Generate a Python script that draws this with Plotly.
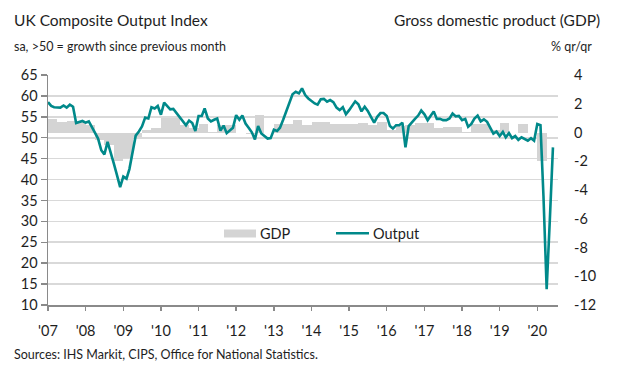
import pandas as pd
import plotly.graph_objects as go

# ---------------- data ----------------
month_start = "2007-01-01"
output_index = [
    # 2007
    58.5, 57.6, 57.3, 57.2, 57.2, 57.7, 57.2, 57.9, 57.4, 53.5, 53.8, 54.0,
    # 2008
    53.6, 53.9, 52.6, 51.3, 49.8, 47.0, 46.0, 49.0, 46.6, 43.8, 41.0, 38.2,
    # 2009
    40.7, 40.2, 42.5, 47.0, 50.5, 51.5, 52.7, 54.8, 54.6, 57.3, 57.0, 57.6,
    # 2010
    55.5, 58.4, 57.7, 56.8, 56.9, 55.9, 55.0, 54.0, 53.0, 54.1, 53.5, 51.6,
    # 2011
    55.2, 55.2, 57.0, 54.6, 53.9, 54.3, 54.6, 51.7, 52.9, 51.1, 51.8, 52.4,
    # 2012
    55.4, 54.3, 55.3, 53.4, 52.4, 51.3, 49.6, 52.8, 51.0, 50.3, 49.8, 49.9,
    # 2013
    51.9, 51.6, 52.4, 54.3, 56.2, 58.6, 60.4, 61.0, 60.6, 61.8, 60.2, 59.4,
    # 2014
    58.7, 58.2, 57.9, 59.2, 59.3, 58.6, 59.0, 58.5, 57.2, 56.6, 57.3, 55.6,
    # 2015
    56.6, 57.8, 58.7, 58.0, 56.3, 57.4, 56.4, 55.0, 53.6, 55.0, 55.9, 55.9,
    # 2016
    55.2, 52.8, 52.2, 53.0, 53.0, 53.6, 47.7, 52.8, 53.8, 54.5, 55.3, 56.5,
    # 2017
    55.6, 54.2, 55.2, 56.3, 54.5, 54.5, 54.2, 54.2, 54.6, 55.8, 55.1, 55.2,
    # 2018
    54.2, 54.5, 52.6, 53.3, 54.6, 55.3, 53.9, 54.4, 53.8, 52.3, 51.0, 51.5,
    # 2019
    50.4, 51.4, 50.1, 51.1, 49.9, 50.4, 49.5, 50.1, 49.6, 49.3, 49.9, 49.3,
    # 2020
    53.3, 53.0, 36.0, 13.8, 30.0, 47.7,
]

gdp_qoq = [
    0.95, 0.7, 0.8, 0.7,      # 2007
    0.5, -0.5, -0.9, -2.0,    # 2008
    -1.8, -0.3, 0.2, 0.3,     # 2009
    1.0, 1.0, 0.55, 0.3,      # 2010
    0.6, 0.05, 0.5, 0.5,      # 2011
    0.0, -0.1, 1.2, -0.05,    # 2012
    0.6, 0.6, 0.9, 0.5,       # 2013
    0.7, 0.7, 0.6, 0.6,       # 2014
    0.6, 0.68, 0.5, 0.7,      # 2015
    0.2, 0.47, 0.55, 0.64,    # 2016
    0.64, 0.29, 0.4, 0.4,     # 2017
    0.05, 0.57, 0.57, 0.17,   # 2018
    0.68, -0.06, 0.57, 0.0,   # 2019
    -2.0,                     # 2020
]

year_ticks = [str(y) for y in range(2007, 2021)]
year_labels = ["'" + y[2:] for y in year_ticks]
left_ticks = [10, 15, 20, 25, 30, 35, 40, 45, 50, 55, 60, 65]
right_ticks = [-12, -10, -8, -6, -4, -2, 0, 2, 4]
right_labels = [str(v) for v in right_ticks]

# ---------------- build ----------------
months = pd.date_range(month_start, periods=len(output_index), freq="MS")
q_starts = pd.date_range(month_start, periods=len(gdp_qoq), freq="QS")
q_ends = q_starts + pd.offsets.QuarterBegin(startingMonth=1)
q_mid = q_starts + (q_ends - q_starts) / 2
q_width = [(e - s).total_seconds() * 1000 for s, e in zip(q_starts, q_ends)]

FONT = "Lato, 'Source Sans Pro', Arial, sans-serif"
TXT = "#1e1e1e"
TEAL = "#00898a"
BARGRAY = "#d4d4d4"
AXGRAY = "#8a8a8a"

fig = go.Figure()
fig.add_trace(go.Bar(
    x=q_mid, y=gdp_qoq, width=q_width, yaxis="y",
    marker=dict(color=BARGRAY, line=dict(width=0)),
    name="GDP", showlegend=False, hoverinfo="skip",
))
fig.add_trace(go.Scatter(
    x=months, y=output_index, yaxis="y2", mode="lines",
    line=dict(color=TEAL, width=2.6),
    name="Output", showlegend=False, hoverinfo="skip",
))

L, R, T, B = 48, 65, 75, 63
W, H = 623, 368
PW, PH = W - L - R, H - T - B


def px(xp):
    return (xp - L) / PW


def py(yp):
    return (H - B - yp) / PH


fig.update_layout(
    width=W, height=H,
    margin=dict(l=L, r=R, t=T, b=B, pad=0),
    paper_bgcolor="white", plot_bgcolor="white",
    font=dict(family=FONT, size=14, color=TXT),
    bargap=0,
    showlegend=False,
    hovermode=False,
    xaxis=dict(
        type="date",
        range=["2007-01-01", "2020-07-20"],
        tickvals=year_ticks, ticktext=year_labels,
        ticks="outside", ticklen=4, tickwidth=1.5, tickcolor=AXGRAY,
        showline=True, linecolor=AXGRAY, linewidth=1.5,
        showgrid=False, zeroline=False,
        tickfont=dict(size=14.5, color=TXT),
        ticklabelstandoff=8,
    ),
    yaxis=dict(
        side="right", range=[-12, 4],
        tickvals=right_ticks, ticktext=right_labels,
        showgrid=False, zeroline=False, showline=False,
        ticks="", tickfont=dict(size=14.5, color=TXT),
        ticklabelstandoff=15,
    ),
    yaxis2=dict(
        side="left", overlaying="y", range=[10, 65],
        tickvals=left_ticks,
        showgrid=True, gridcolor="#d9d9d9", gridwidth=1.6,
        zeroline=False, showline=True, linecolor=AXGRAY, linewidth=1.5,
        ticks="outside", ticklen=6, tickwidth=1.5, tickcolor=AXGRAY,
        tickfont=dict(size=14.5, color=TXT),
    ),
)

ann = []
ann.append(dict(text="UK Composite Output Index", x=px(12), y=py(20), xref="paper", yref="paper",
                xanchor="left", yanchor="middle", showarrow=False, font=dict(size=15.5, color=TXT)))
ann.append(dict(text="sa, >50 = growth since previous month", x=px(12), y=py(46), xref="paper", yref="paper",
                xanchor="left", yanchor="middle", showarrow=False, font=dict(size=12.5, color=TXT)))
ann.append(dict(text="Gross domestic product (GDP)", x=px(602), y=py(20), xref="paper", yref="paper",
                xanchor="right", yanchor="middle", showarrow=False, font=dict(size=15.5, color=TXT)))
ann.append(dict(text="% qr/qr", x=px(594), y=py(46), xref="paper", yref="paper",
                xanchor="right", yanchor="middle", showarrow=False, font=dict(size=12.5, color=TXT)))
ann.append(dict(text="Sources: IHS Markit, CIPS, Office for National Statistics.", x=px(12), y=py(354),
                xref="paper", yref="paper", xanchor="left", yanchor="middle", showarrow=False,
                font=dict(size=12.5, color=TXT)))
# legend labels
ann.append(dict(text="GDP", x=px(258), y=py(233), xref="paper", yref="paper",
                xanchor="left", yanchor="middle", showarrow=False, font=dict(size=14.5, color=TXT)))
ann.append(dict(text="Output", x=px(371), y=py(233), xref="paper", yref="paper",
                xanchor="left", yanchor="middle", showarrow=False, font=dict(size=14.5, color=TXT)))

shapes = [
    dict(type="rect", xref="paper", yref="paper", x0=px(224), x1=px(256), y0=py(237.5), y1=py(229.5),
         fillcolor=BARGRAY, line=dict(width=0)),
    dict(type="line", xref="paper", yref="paper", x0=px(336), x1=px(369), y0=py(233.3), y1=py(233.3),
         line=dict(color=TEAL, width=2.6)),
]
fig.update_layout(annotations=ann, shapes=shapes)

fig.write_html(
    "out.html",
    config={"displayModeBar": False, "staticPlot": True},
    post_script="document.body.style.margin='0';document.body.style.overflow='hidden';",
)
